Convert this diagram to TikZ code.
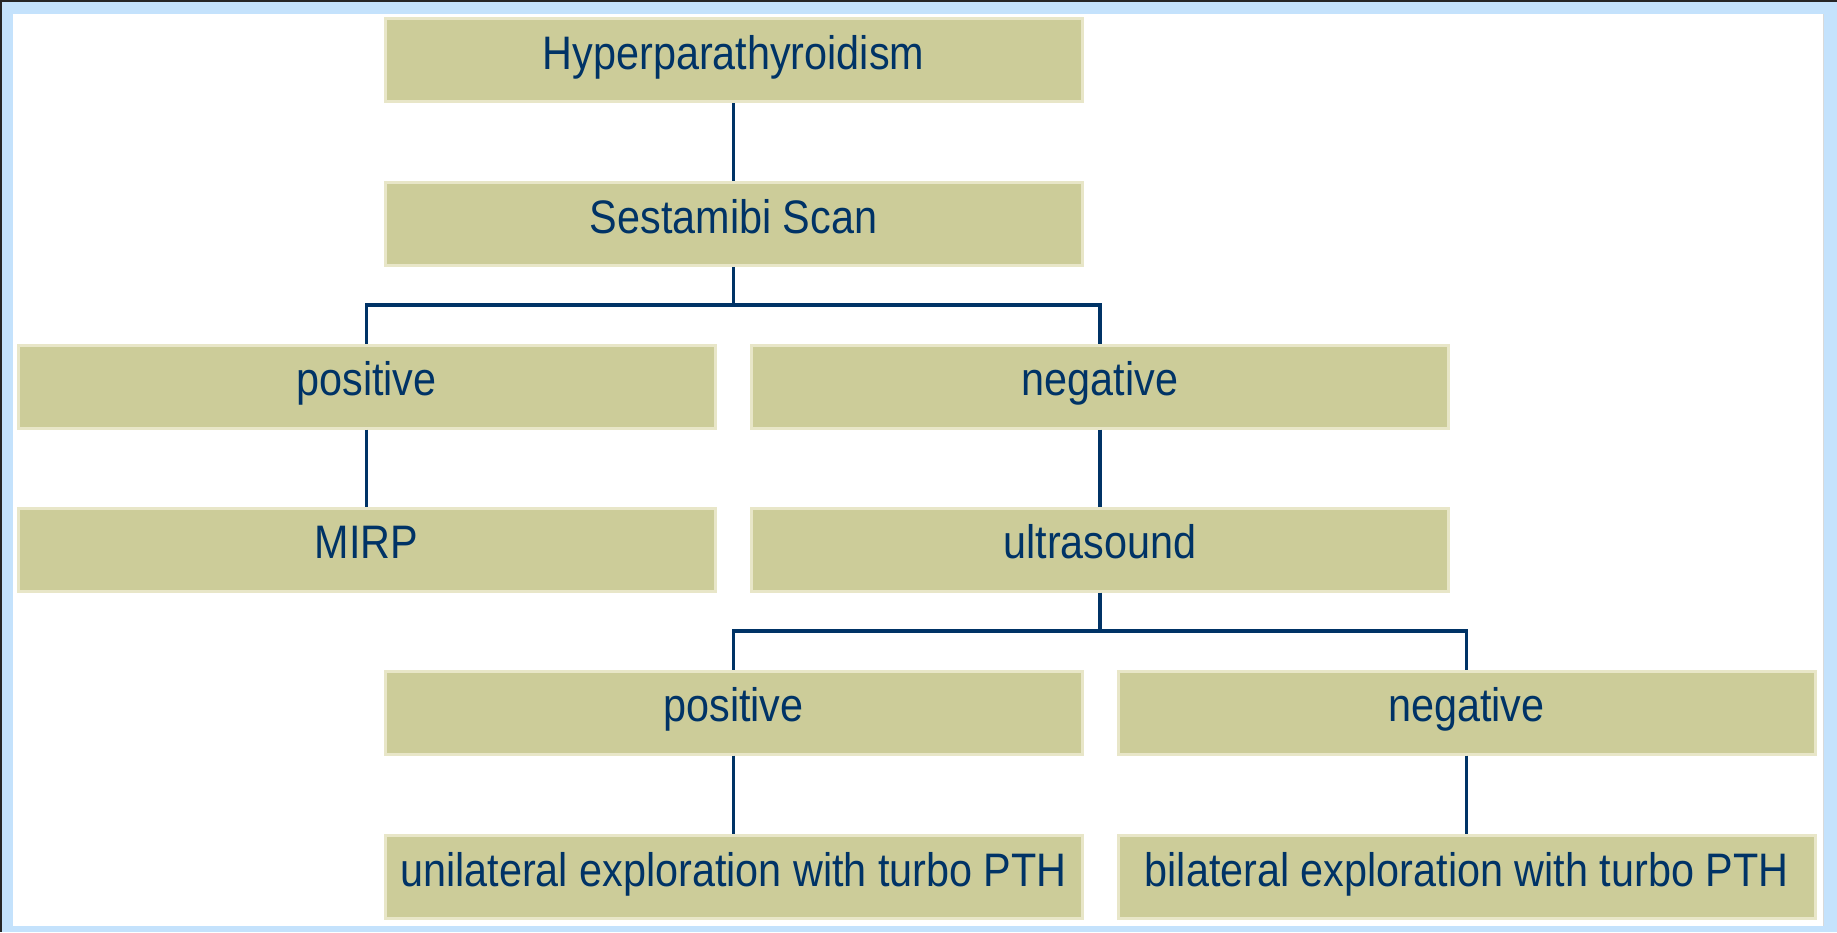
\documentclass[tikz,border=0pt]{standalone}
\usepackage{fontspec}
\setmainfont[FakeStretch=0.88]{Liberation Sans}
\definecolor{frameblue}{RGB}{196,226,252}
\definecolor{boxfill}{RGB}{204,204,153}
\definecolor{boxedge}{RGB}{232,230,200}
\definecolor{navy}{RGB}{0,51,102}
\tikzset{
  flowbox/.style={rectangle, fill=boxfill, draw=boxedge, line width=3pt,
    minimum width=697pt, minimum height=83pt, inner sep=0pt,
    text height=36pt, text depth=18pt, text=navy,
    font=\fontsize{47}{56}\selectfont},
  link/.style={draw=navy, line width=3.2pt}
}
\begin{document}
\begin{tikzpicture}[x=1pt,y=-1pt]
\useasboundingbox (0,0) rectangle (1837,932);
% frame
\fill[frameblue] (0,0) rectangle (1837,932);
\fill[white] (13,14) rectangle (1823,926);
\fill[black!85] (0,0) rectangle (1837,2);
\fill[black!85] (0,0) rectangle (2,932);
\draw[black!15, line width=1pt] (1823,14) -- (1823,926);
% boxes
\node[flowbox] (hyper) at (733.5,60) {Hyperparathyroidism};
\node[flowbox] (sest)  at (733.5,224) {Sestamibi Scan};
\node[flowbox] (posA)  at (366.5,386.5) {positive};
\node[flowbox] (negA)  at (1100,386.5) {negative};
\node[flowbox] (mirp)  at (366.5,549.5) {MIRP};
\node[flowbox] (ultra) at (1100,549.5) {ultrasound};
\node[flowbox] (posB)  at (733.5,712.5) {positive};
\node[flowbox] (negB)  at (1466.5,712.5) {negative};
\node[flowbox] (uni)   at (733.5,877) {unilateral exploration with turbo PTH};
\node[flowbox] (bi)    at (1466.5,877) {bilateral exploration with turbo PTH};
% connectors
\coordinate (brA) at (733.5,305);
\coordinate (brB) at (1100,631);
\draw[link] (hyper.south) -- (sest.north);
\draw[link] (sest.south) -- (brA);
\draw[link] (brA) -| (posA.north);
\draw[link] (brA) -| (negA.north);
\draw[link] (posA.south) -- (mirp.north);
\draw[link] (negA.south) -- (ultra.north);
\draw[link] (ultra.south) -- (brB);
\draw[link] (brB) -| (posB.north);
\draw[link] (brB) -| (negB.north);
\draw[link] (posB.south) -- (uni.north);
\draw[link] (negB.south) -- (bi.north);
\end{tikzpicture}
\end{document}
